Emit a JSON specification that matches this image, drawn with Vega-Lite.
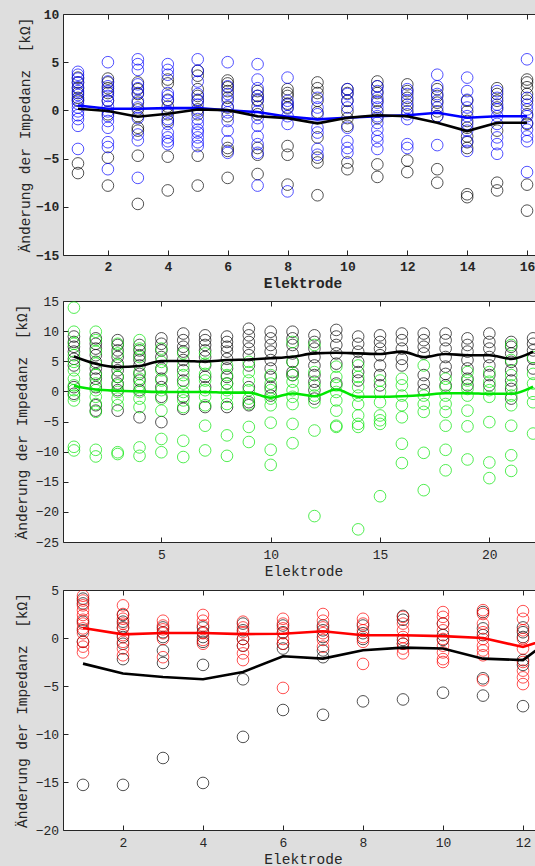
{
"$schema": "https://vega.github.io/schema/vega-lite/v6.json",
"background": "#dedede",
"padding": {"left": 14, "top": 7, "right": 0, "bottom": 0},
"columns": 1,
"align": "none",
"spacing": 4,
"resolve": {"scale": {"color": "independent"}},
"datasets": {
"p1pts": [
{"e":1,"v":3.4,"g":"k"},{"e":1,"v":2.9,"g":"k"},{"e":1,"v":2.3,"g":"k"},{"e":1,"v":1.8,"g":"k"},{"e":1,"v":1.3,"g":"k"},{"e":1,"v":1.0,"g":"k"},{"e":1,"v":-5.5,"g":"k"},{"e":1,"v":-6.5,"g":"k"},
{"e":2,"v":3.3,"g":"k"},{"e":2,"v":2.9,"g":"k"},{"e":2,"v":2.3,"g":"k"},{"e":2,"v":1.8,"g":"k"},{"e":2,"v":1.0,"g":"k"},{"e":2,"v":-0.4,"g":"k"},{"e":2,"v":-4.9,"g":"k"},{"e":2,"v":-7.8,"g":"k"},
{"e":3,"v":2.9,"g":"k"},{"e":3,"v":2.2,"g":"k"},{"e":3,"v":1.7,"g":"k"},{"e":3,"v":0.8,"g":"k"},{"e":3,"v":0.1,"g":"k"},{"e":3,"v":-0.6,"g":"k"},{"e":3,"v":-1.8,"g":"k"},{"e":3,"v":-2.1,"g":"k"},{"e":3,"v":-4.7,"g":"k"},{"e":3,"v":-9.7,"g":"k"},
{"e":4,"v":3.2,"g":"k"},{"e":4,"v":2.8,"g":"k"},{"e":4,"v":1.1,"g":"k"},{"e":4,"v":0.4,"g":"k"},{"e":4,"v":-0.4,"g":"k"},{"e":4,"v":-1.1,"g":"k"},{"e":4,"v":-4.8,"g":"k"},{"e":4,"v":-8.3,"g":"k"},
{"e":5,"v":4.1,"g":"k"},{"e":5,"v":3.6,"g":"k"},{"e":5,"v":2.2,"g":"k"},{"e":5,"v":1.5,"g":"k"},{"e":5,"v":1.0,"g":"k"},{"e":5,"v":0.1,"g":"k"},{"e":5,"v":-0.4,"g":"k"},{"e":5,"v":-4.7,"g":"k"},{"e":5,"v":-7.8,"g":"k"},
{"e":6,"v":3.1,"g":"k"},{"e":6,"v":2.8,"g":"k"},{"e":6,"v":2.4,"g":"k"},{"e":6,"v":2.0,"g":"k"},{"e":6,"v":1.3,"g":"k"},{"e":6,"v":0.3,"g":"k"},{"e":6,"v":-0.6,"g":"k"},{"e":6,"v":-3.9,"g":"k"},{"e":6,"v":-4.2,"g":"k"},{"e":6,"v":-7.0,"g":"k"},
{"e":7,"v":2.0,"g":"k"},{"e":7,"v":1.5,"g":"k"},{"e":7,"v":1.1,"g":"k"},{"e":7,"v":0.4,"g":"k"},{"e":7,"v":-0.4,"g":"k"},{"e":7,"v":-3.9,"g":"k"},{"e":7,"v":-4.6,"g":"k"},{"e":7,"v":-6.6,"g":"k"},
{"e":8,"v":2.2,"g":"k"},{"e":8,"v":1.8,"g":"k"},{"e":8,"v":1.5,"g":"k"},{"e":8,"v":0.7,"g":"k"},{"e":8,"v":0.3,"g":"k"},{"e":8,"v":-3.7,"g":"k"},{"e":8,"v":-4.6,"g":"k"},{"e":8,"v":-7.7,"g":"k"},
{"e":9,"v":2.9,"g":"k"},{"e":9,"v":2.3,"g":"k"},{"e":9,"v":1.8,"g":"k"},{"e":9,"v":1.0,"g":"k"},{"e":9,"v":-0.2,"g":"k"},{"e":9,"v":-2.8,"g":"k"},{"e":9,"v":-4.9,"g":"k"},{"e":9,"v":-5.4,"g":"k"},{"e":9,"v":-8.8,"g":"k"},
{"e":10,"v":2.2,"g":"k"},{"e":10,"v":1.8,"g":"k"},{"e":10,"v":1.0,"g":"k"},{"e":10,"v":-0.1,"g":"k"},{"e":10,"v":-0.8,"g":"k"},{"e":10,"v":-1.6,"g":"k"},{"e":10,"v":-5.4,"g":"k"},{"e":10,"v":-6.1,"g":"k"},
{"e":11,"v":3.0,"g":"k"},{"e":11,"v":2.5,"g":"k"},{"e":11,"v":1.8,"g":"k"},{"e":11,"v":1.0,"g":"k"},{"e":11,"v":-0.1,"g":"k"},{"e":11,"v":-0.8,"g":"k"},{"e":11,"v":-5.6,"g":"k"},{"e":11,"v":-6.9,"g":"k"},
{"e":12,"v":2.7,"g":"k"},{"e":12,"v":2.0,"g":"k"},{"e":12,"v":1.3,"g":"k"},{"e":12,"v":0.6,"g":"k"},{"e":12,"v":-0.1,"g":"k"},{"e":12,"v":-5.2,"g":"k"},{"e":12,"v":-6.4,"g":"k"},
{"e":13,"v":2.2,"g":"k"},{"e":13,"v":1.5,"g":"k"},{"e":13,"v":0.8,"g":"k"},{"e":13,"v":-0.1,"g":"k"},{"e":13,"v":-0.6,"g":"k"},{"e":13,"v":-6.1,"g":"k"},{"e":13,"v":-7.5,"g":"k"},
{"e":14,"v":1.0,"g":"k"},{"e":14,"v":-0.1,"g":"k"},{"e":14,"v":-1.1,"g":"k"},{"e":14,"v":-1.8,"g":"k"},{"e":14,"v":-2.7,"g":"k"},{"e":14,"v":-3.3,"g":"k"},{"e":14,"v":-3.9,"g":"k"},{"e":14,"v":-8.7,"g":"k"},{"e":14,"v":-9.0,"g":"k"},
{"e":15,"v":2.3,"g":"k"},{"e":15,"v":1.7,"g":"k"},{"e":15,"v":1.0,"g":"k"},{"e":15,"v":0.3,"g":"k"},{"e":15,"v":-2.1,"g":"k"},{"e":15,"v":-7.5,"g":"k"},{"e":15,"v":-8.3,"g":"k"},
{"e":16,"v":3.2,"g":"k"},{"e":16,"v":2.9,"g":"k"},{"e":16,"v":2.4,"g":"k"},{"e":16,"v":1.7,"g":"k"},{"e":16,"v":1.0,"g":"k"},{"e":16,"v":-0.4,"g":"k"},{"e":16,"v":-1.4,"g":"k"},{"e":16,"v":-7.7,"g":"k"},{"e":16,"v":-10.4,"g":"k"},
{"e":1,"v":4.0,"g":"c"},{"e":1,"v":3.7,"g":"c"},{"e":1,"v":3.3,"g":"c"},{"e":1,"v":2.9,"g":"c"},{"e":1,"v":2.4,"g":"c"},{"e":1,"v":2.0,"g":"c"},{"e":1,"v":1.6,"g":"c"},{"e":1,"v":1.1,"g":"c"},{"e":1,"v":0.7,"g":"c"},{"e":1,"v":0.3,"g":"c"},{"e":1,"v":-0.1,"g":"c"},{"e":1,"v":-0.5,"g":"c"},{"e":1,"v":-0.9,"g":"c"},{"e":1,"v":-1.6,"g":"c"},{"e":1,"v":-4.0,"g":"c"},
{"e":2,"v":5.0,"g":"c"},{"e":2,"v":3.0,"g":"c"},{"e":2,"v":2.5,"g":"c"},{"e":2,"v":2.0,"g":"c"},{"e":2,"v":1.5,"g":"c"},{"e":2,"v":1.0,"g":"c"},{"e":2,"v":0.4,"g":"c"},{"e":2,"v":-0.1,"g":"c"},{"e":2,"v":-0.6,"g":"c"},{"e":2,"v":-1.1,"g":"c"},{"e":2,"v":-1.8,"g":"c"},{"e":2,"v":-3.3,"g":"c"},{"e":2,"v":-3.8,"g":"c"},{"e":2,"v":-6.1,"g":"c"},
{"e":3,"v":5.3,"g":"c"},{"e":3,"v":4.8,"g":"c"},{"e":3,"v":4.2,"g":"c"},{"e":3,"v":2.7,"g":"c"},{"e":3,"v":2.3,"g":"c"},{"e":3,"v":1.8,"g":"c"},{"e":3,"v":1.0,"g":"c"},{"e":3,"v":0.3,"g":"c"},{"e":3,"v":-0.8,"g":"c"},{"e":3,"v":-2.5,"g":"c"},{"e":3,"v":-3.1,"g":"c"},{"e":3,"v":-7.0,"g":"c"},
{"e":4,"v":4.8,"g":"c"},{"e":4,"v":4.2,"g":"c"},{"e":4,"v":3.7,"g":"c"},{"e":4,"v":1.8,"g":"c"},{"e":4,"v":1.5,"g":"c"},{"e":4,"v":1.0,"g":"c"},{"e":4,"v":-0.1,"g":"c"},{"e":4,"v":-0.9,"g":"c"},{"e":4,"v":-1.4,"g":"c"},{"e":4,"v":-2.3,"g":"c"},{"e":4,"v":-2.8,"g":"c"},{"e":4,"v":-3.2,"g":"c"},{"e":4,"v":-3.5,"g":"c"},
{"e":5,"v":5.3,"g":"c"},{"e":5,"v":4.1,"g":"c"},{"e":5,"v":3.0,"g":"c"},{"e":5,"v":1.7,"g":"c"},{"e":5,"v":1.1,"g":"c"},{"e":5,"v":0.6,"g":"c"},{"e":5,"v":-0.1,"g":"c"},{"e":5,"v":-0.9,"g":"c"},{"e":5,"v":-1.4,"g":"c"},{"e":5,"v":-2.0,"g":"c"},{"e":5,"v":-2.3,"g":"c"},{"e":5,"v":-2.8,"g":"c"},{"e":5,"v":-3.3,"g":"c"},{"e":5,"v":-3.7,"g":"c"},
{"e":6,"v":5.0,"g":"c"},{"e":6,"v":2.5,"g":"c"},{"e":6,"v":1.7,"g":"c"},{"e":6,"v":1.0,"g":"c"},{"e":6,"v":0.4,"g":"c"},{"e":6,"v":-0.2,"g":"c"},{"e":6,"v":-1.1,"g":"c"},{"e":6,"v":-2.1,"g":"c"},{"e":6,"v":-3.2,"g":"c"},{"e":6,"v":-4.4,"g":"c"},
{"e":7,"v":4.8,"g":"c"},{"e":7,"v":3.2,"g":"c"},{"e":7,"v":2.3,"g":"c"},{"e":7,"v":1.5,"g":"c"},{"e":7,"v":1.0,"g":"c"},{"e":7,"v":-0.1,"g":"c"},{"e":7,"v":-0.8,"g":"c"},{"e":7,"v":-1.6,"g":"c"},{"e":7,"v":-2.7,"g":"c"},{"e":7,"v":-3.5,"g":"c"},{"e":7,"v":-4.4,"g":"c"},{"e":7,"v":-7.8,"g":"c"},
{"e":8,"v":3.4,"g":"c"},{"e":8,"v":1.0,"g":"c"},{"e":8,"v":0.6,"g":"c"},{"e":8,"v":0.2,"g":"c"},{"e":8,"v":-0.6,"g":"c"},{"e":8,"v":-1.4,"g":"c"},{"e":8,"v":-8.4,"g":"c"},
{"e":9,"v":1.3,"g":"c"},{"e":9,"v":0.3,"g":"c"},{"e":9,"v":-0.4,"g":"c"},{"e":9,"v":-1.8,"g":"c"},{"e":9,"v":-2.3,"g":"c"},{"e":9,"v":-4.0,"g":"c"},{"e":9,"v":-4.6,"g":"c"},
{"e":10,"v":2.2,"g":"c"},{"e":10,"v":1.7,"g":"c"},{"e":10,"v":1.0,"g":"c"},{"e":10,"v":0.3,"g":"c"},{"e":10,"v":-1.8,"g":"c"},{"e":10,"v":-3.2,"g":"c"},{"e":10,"v":-3.9,"g":"c"},{"e":10,"v":-4.4,"g":"c"},
{"e":11,"v":2.5,"g":"c"},{"e":11,"v":2.0,"g":"c"},{"e":11,"v":1.3,"g":"c"},{"e":11,"v":0.8,"g":"c"},{"e":11,"v":0.3,"g":"c"},{"e":11,"v":-0.6,"g":"c"},{"e":11,"v":-1.3,"g":"c"},{"e":11,"v":-2.0,"g":"c"},{"e":11,"v":-2.7,"g":"c"},{"e":11,"v":-3.2,"g":"c"},{"e":11,"v":-4.0,"g":"c"},
{"e":12,"v":2.2,"g":"c"},{"e":12,"v":1.7,"g":"c"},{"e":12,"v":1.0,"g":"c"},{"e":12,"v":0.3,"g":"c"},{"e":12,"v":-0.4,"g":"c"},{"e":12,"v":-0.9,"g":"c"},{"e":12,"v":-3.5,"g":"c"},{"e":12,"v":-3.9,"g":"c"},
{"e":13,"v":3.7,"g":"c"},{"e":13,"v":2.5,"g":"c"},{"e":13,"v":1.7,"g":"c"},{"e":13,"v":1.0,"g":"c"},{"e":13,"v":0.3,"g":"c"},{"e":13,"v":-0.6,"g":"c"},{"e":13,"v":-3.6,"g":"c"},
{"e":14,"v":3.4,"g":"c"},{"e":14,"v":2.0,"g":"c"},{"e":14,"v":1.1,"g":"c"},{"e":14,"v":0.3,"g":"c"},{"e":14,"v":-0.6,"g":"c"},{"e":14,"v":-1.4,"g":"c"},{"e":14,"v":-2.1,"g":"c"},{"e":14,"v":-3.2,"g":"c"},{"e":14,"v":-4.2,"g":"c"},
{"e":15,"v":2.0,"g":"c"},{"e":15,"v":1.3,"g":"c"},{"e":15,"v":0.6,"g":"c"},{"e":15,"v":0.1,"g":"c"},{"e":15,"v":-0.6,"g":"c"},{"e":15,"v":-1.4,"g":"c"},{"e":15,"v":-2.8,"g":"c"},{"e":15,"v":-3.5,"g":"c"},{"e":15,"v":-4.5,"g":"c"},
{"e":16,"v":5.3,"g":"c"},{"e":16,"v":1.3,"g":"c"},{"e":16,"v":0.6,"g":"c"},{"e":16,"v":0.1,"g":"c"},{"e":16,"v":-0.6,"g":"c"},{"e":16,"v":-1.3,"g":"c"},{"e":16,"v":-2.0,"g":"c"},{"e":16,"v":-2.7,"g":"c"},{"e":16,"v":-3.2,"g":"c"},{"e":16,"v":-6.4,"g":"c"}
],
"p1med": [
{"e":1,"v":0.5,"g":"c"},{"e":2,"v":0.17,"g":"c"},{"e":3,"v":0.17,"g":"c"},{"e":4,"v":0.24,"g":"c"},{"e":5,"v":0.24,"g":"c"},{"e":6,"v":0.0,"g":"c"},{"e":7,"v":-0.17,"g":"c"},{"e":8,"v":-0.65,"g":"c"},{"e":9,"v":-0.93,"g":"c"},{"e":10,"v":-0.76,"g":"c"},{"e":11,"v":-0.6,"g":"c"},{"e":12,"v":-0.5,"g":"c"},{"e":13,"v":-0.24,"g":"c"},{"e":14,"v":-0.76,"g":"c"},{"e":15,"v":-0.6,"g":"c"},{"e":16,"v":-0.6,"g":"c"},
{"e":1,"v":0.17,"g":"k"},{"e":2,"v":-0.07,"g":"k"},{"e":3,"v":-0.66,"g":"k"},{"e":4,"v":-0.34,"g":"k"},{"e":5,"v":0.1,"g":"k"},{"e":6,"v":0.03,"g":"k"},{"e":7,"v":-0.6,"g":"k"},{"e":8,"v":-0.8,"g":"k"},{"e":9,"v":-1.34,"g":"k"},{"e":10,"v":-0.76,"g":"k"},{"e":11,"v":-0.5,"g":"k"},{"e":12,"v":-0.6,"g":"k"},{"e":13,"v":-1.28,"g":"k"},{"e":14,"v":-2.14,"g":"k"},{"e":15,"v":-1.28,"g":"k"},{"e":16,"v":-1.28,"g":"k"}
],
"p2pts": [
{"e":1,"v":9.1,"g":"k"},{"e":1,"v":8.2,"g":"k"},{"e":1,"v":7.4,"g":"k"},{"e":1,"v":6.6,"g":"k"},{"e":1,"v":5.4,"g":"k"},{"e":1,"v":4.3,"g":"k"},{"e":1,"v":0.7,"g":"k"},{"e":1,"v":-0.4,"g":"k"},
{"e":2,"v":8.8,"g":"k"},{"e":2,"v":7.9,"g":"k"},{"e":2,"v":7.1,"g":"k"},{"e":2,"v":6.0,"g":"k"},{"e":2,"v":4.9,"g":"k"},{"e":2,"v":3.8,"g":"k"},{"e":2,"v":2.9,"g":"k"},{"e":2,"v":2.1,"g":"k"},{"e":2,"v":0.7,"g":"k"},{"e":2,"v":-2.3,"g":"k"},{"e":2,"v":-3.2,"g":"k"},
{"e":3,"v":8.5,"g":"k"},{"e":3,"v":7.7,"g":"k"},{"e":3,"v":6.8,"g":"k"},{"e":3,"v":5.7,"g":"k"},{"e":3,"v":4.6,"g":"k"},{"e":3,"v":3.5,"g":"k"},{"e":3,"v":2.4,"g":"k"},{"e":3,"v":1.3,"g":"k"},{"e":3,"v":0.2,"g":"k"},{"e":3,"v":-3.2,"g":"k"},
{"e":4,"v":7.7,"g":"k"},{"e":4,"v":6.8,"g":"k"},{"e":4,"v":6.0,"g":"k"},{"e":4,"v":5.2,"g":"k"},{"e":4,"v":4.3,"g":"k"},{"e":4,"v":2.9,"g":"k"},{"e":4,"v":1.8,"g":"k"},{"e":4,"v":0.2,"g":"k"},{"e":4,"v":-4.3,"g":"k"},
{"e":5,"v":8.8,"g":"k"},{"e":5,"v":7.9,"g":"k"},{"e":5,"v":6.8,"g":"k"},{"e":5,"v":5.7,"g":"k"},{"e":5,"v":3.8,"g":"k"},{"e":5,"v":2.1,"g":"k"},{"e":5,"v":0.7,"g":"k"},{"e":5,"v":-0.9,"g":"k"},{"e":5,"v":-5.1,"g":"k"},
{"e":6,"v":9.6,"g":"k"},{"e":6,"v":8.5,"g":"k"},{"e":6,"v":7.4,"g":"k"},{"e":6,"v":6.6,"g":"k"},{"e":6,"v":5.2,"g":"k"},{"e":6,"v":3.5,"g":"k"},{"e":6,"v":1.8,"g":"k"},{"e":6,"v":-0.9,"g":"k"},{"e":6,"v":-2.9,"g":"k"},
{"e":7,"v":9.3,"g":"k"},{"e":7,"v":8.5,"g":"k"},{"e":7,"v":7.7,"g":"k"},{"e":7,"v":6.8,"g":"k"},{"e":7,"v":5.7,"g":"k"},{"e":7,"v":4.3,"g":"k"},{"e":7,"v":2.4,"g":"k"},{"e":7,"v":0.7,"g":"k"},{"e":7,"v":-2.6,"g":"k"},
{"e":8,"v":9.1,"g":"k"},{"e":8,"v":8.2,"g":"k"},{"e":8,"v":7.4,"g":"k"},{"e":8,"v":6.6,"g":"k"},{"e":8,"v":5.4,"g":"k"},{"e":8,"v":3.8,"g":"k"},{"e":8,"v":2.4,"g":"k"},{"e":8,"v":1.3,"g":"k"},{"e":8,"v":-2.6,"g":"k"},
{"e":9,"v":10.4,"g":"k"},{"e":9,"v":9.3,"g":"k"},{"e":9,"v":8.2,"g":"k"},{"e":9,"v":7.1,"g":"k"},{"e":9,"v":6.0,"g":"k"},{"e":9,"v":4.3,"g":"k"},{"e":9,"v":0.7,"g":"k"},{"e":9,"v":-1.8,"g":"k"},{"e":9,"v":-2.3,"g":"k"},
{"e":10,"v":9.9,"g":"k"},{"e":10,"v":8.8,"g":"k"},{"e":10,"v":7.7,"g":"k"},{"e":10,"v":6.6,"g":"k"},{"e":10,"v":5.2,"g":"k"},{"e":10,"v":3.8,"g":"k"},{"e":10,"v":2.4,"g":"k"},{"e":10,"v":0.7,"g":"k"},{"e":10,"v":-0.7,"g":"k"},
{"e":11,"v":9.9,"g":"k"},{"e":11,"v":8.8,"g":"k"},{"e":11,"v":7.7,"g":"k"},{"e":11,"v":6.3,"g":"k"},{"e":11,"v":4.9,"g":"k"},{"e":11,"v":3.2,"g":"k"},{"e":11,"v":2.7,"g":"k"},
{"e":12,"v":9.3,"g":"k"},{"e":12,"v":8.2,"g":"k"},{"e":12,"v":7.1,"g":"k"},{"e":12,"v":5.7,"g":"k"},{"e":12,"v":4.3,"g":"k"},{"e":12,"v":2.7,"g":"k"},{"e":12,"v":1.6,"g":"k"},{"e":12,"v":0.2,"g":"k"},{"e":12,"v":-1.2,"g":"k"},
{"e":13,"v":10.2,"g":"k"},{"e":13,"v":9.1,"g":"k"},{"e":13,"v":7.7,"g":"k"},{"e":13,"v":6.3,"g":"k"},{"e":13,"v":4.6,"g":"k"},{"e":13,"v":1.3,"g":"k"},
{"e":14,"v":9.1,"g":"k"},{"e":14,"v":7.9,"g":"k"},{"e":14,"v":6.6,"g":"k"},{"e":14,"v":4.9,"g":"k"},{"e":14,"v":3.2,"g":"k"},{"e":14,"v":1.8,"g":"k"},
{"e":15,"v":9.3,"g":"k"},{"e":15,"v":8.2,"g":"k"},{"e":15,"v":7.1,"g":"k"},{"e":15,"v":6.0,"g":"k"},{"e":15,"v":4.3,"g":"k"},{"e":15,"v":2.7,"g":"k"},{"e":15,"v":1.0,"g":"k"},
{"e":16,"v":9.6,"g":"k"},{"e":16,"v":8.5,"g":"k"},{"e":16,"v":7.1,"g":"k"},{"e":16,"v":5.4,"g":"k"},{"e":16,"v":4.3,"g":"k"},
{"e":17,"v":9.6,"g":"k"},{"e":17,"v":8.5,"g":"k"},{"e":17,"v":7.4,"g":"k"},{"e":17,"v":6.3,"g":"k"},{"e":17,"v":2.7,"g":"k"},{"e":17,"v":1.3,"g":"k"},{"e":17,"v":0.2,"g":"k"},
{"e":18,"v":9.6,"g":"k"},{"e":18,"v":8.5,"g":"k"},{"e":18,"v":7.1,"g":"k"},{"e":18,"v":5.7,"g":"k"},{"e":18,"v":4.1,"g":"k"},{"e":18,"v":2.9,"g":"k"},{"e":18,"v":1.0,"g":"k"},
{"e":19,"v":8.8,"g":"k"},{"e":19,"v":7.7,"g":"k"},{"e":19,"v":6.6,"g":"k"},{"e":19,"v":5.2,"g":"k"},{"e":19,"v":3.8,"g":"k"},{"e":19,"v":2.1,"g":"k"},{"e":19,"v":1.0,"g":"k"},
{"e":20,"v":9.6,"g":"k"},{"e":20,"v":8.2,"g":"k"},{"e":20,"v":7.1,"g":"k"},{"e":20,"v":5.7,"g":"k"},{"e":20,"v":4.3,"g":"k"},{"e":20,"v":2.7,"g":"k"},{"e":20,"v":1.0,"g":"k"},
{"e":21,"v":8.2,"g":"k"},{"e":21,"v":7.4,"g":"k"},{"e":21,"v":6.3,"g":"k"},{"e":21,"v":4.9,"g":"k"},{"e":21,"v":3.5,"g":"k"},{"e":21,"v":1.8,"g":"k"},{"e":21,"v":0.4,"g":"k"},{"e":21,"v":-1.2,"g":"k"},
{"e":22,"v":8.8,"g":"k"},{"e":22,"v":7.9,"g":"k"},{"e":22,"v":6.8,"g":"k"},{"e":22,"v":5.4,"g":"k"},{"e":22,"v":3.8,"g":"k"},
{"e":1,"v":13.9,"g":"c"},{"e":1,"v":9.9,"g":"c"},{"e":1,"v":7.9,"g":"c"},{"e":1,"v":6.0,"g":"c"},{"e":1,"v":4.9,"g":"c"},{"e":1,"v":3.5,"g":"c"},{"e":1,"v":2.1,"g":"c"},{"e":1,"v":1.0,"g":"c"},{"e":1,"v":0.2,"g":"c"},{"e":1,"v":-0.7,"g":"c"},{"e":1,"v":-1.5,"g":"c"},{"e":1,"v":-9.2,"g":"c"},{"e":1,"v":-9.8,"g":"c"},
{"e":2,"v":9.9,"g":"c"},{"e":2,"v":8.5,"g":"c"},{"e":2,"v":6.6,"g":"c"},{"e":2,"v":4.6,"g":"c"},{"e":2,"v":2.7,"g":"c"},{"e":2,"v":1.3,"g":"c"},{"e":2,"v":0.2,"g":"c"},{"e":2,"v":-0.9,"g":"c"},{"e":2,"v":-2.1,"g":"c"},{"e":2,"v":-3.4,"g":"c"},{"e":2,"v":-9.7,"g":"c"},{"e":2,"v":-10.8,"g":"c"},
{"e":3,"v":7.9,"g":"c"},{"e":3,"v":6.3,"g":"c"},{"e":3,"v":4.3,"g":"c"},{"e":3,"v":2.4,"g":"c"},{"e":3,"v":1.0,"g":"c"},{"e":3,"v":-0.1,"g":"c"},{"e":3,"v":-1.2,"g":"c"},{"e":3,"v":-2.3,"g":"c"},{"e":3,"v":-10.1,"g":"c"},{"e":3,"v":-10.4,"g":"c"},
{"e":4,"v":8.5,"g":"c"},{"e":4,"v":7.1,"g":"c"},{"e":4,"v":5.7,"g":"c"},{"e":4,"v":3.2,"g":"c"},{"e":4,"v":2.1,"g":"c"},{"e":4,"v":1.0,"g":"c"},{"e":4,"v":-0.1,"g":"c"},{"e":4,"v":-1.2,"g":"c"},{"e":4,"v":-2.6,"g":"c"},{"e":4,"v":-9.3,"g":"c"},{"e":4,"v":-10.7,"g":"c"},
{"e":5,"v":7.1,"g":"c"},{"e":5,"v":4.9,"g":"c"},{"e":5,"v":3.5,"g":"c"},{"e":5,"v":1.8,"g":"c"},{"e":5,"v":0.2,"g":"c"},{"e":5,"v":-1.2,"g":"c"},{"e":5,"v":-3.2,"g":"c"},{"e":5,"v":-7.9,"g":"c"},{"e":5,"v":-10.1,"g":"c"},
{"e":6,"v":6.3,"g":"c"},{"e":6,"v":4.3,"g":"c"},{"e":6,"v":2.7,"g":"c"},{"e":6,"v":1.3,"g":"c"},{"e":6,"v":-0.1,"g":"c"},{"e":6,"v":-1.5,"g":"c"},{"e":6,"v":-2.6,"g":"c"},{"e":6,"v":-8.2,"g":"c"},{"e":6,"v":-10.9,"g":"c"},
{"e":7,"v":6.3,"g":"c"},{"e":7,"v":4.6,"g":"c"},{"e":7,"v":2.9,"g":"c"},{"e":7,"v":1.8,"g":"c"},{"e":7,"v":0.2,"g":"c"},{"e":7,"v":-0.9,"g":"c"},{"e":7,"v":-2.3,"g":"c"},{"e":7,"v":-5.7,"g":"c"},{"e":7,"v":-9.8,"g":"c"},
{"e":8,"v":4.3,"g":"c"},{"e":8,"v":2.7,"g":"c"},{"e":8,"v":1.3,"g":"c"},{"e":8,"v":0.2,"g":"c"},{"e":8,"v":-0.9,"g":"c"},{"e":8,"v":-2.1,"g":"c"},{"e":8,"v":-7.3,"g":"c"},{"e":8,"v":-10.7,"g":"c"},
{"e":9,"v":4.9,"g":"c"},{"e":9,"v":3.2,"g":"c"},{"e":9,"v":1.8,"g":"c"},{"e":9,"v":0.2,"g":"c"},{"e":9,"v":-1.2,"g":"c"},{"e":9,"v":-2.1,"g":"c"},{"e":9,"v":-5.9,"g":"c"},{"e":9,"v":-8.4,"g":"c"},
{"e":10,"v":2.7,"g":"c"},{"e":10,"v":1.3,"g":"c"},{"e":10,"v":0.2,"g":"c"},{"e":10,"v":-1.2,"g":"c"},{"e":10,"v":-2.3,"g":"c"},{"e":10,"v":-5.2,"g":"c"},{"e":10,"v":-9.7,"g":"c"},{"e":10,"v":-12.2,"g":"c"},
{"e":11,"v":8.2,"g":"c"},{"e":11,"v":4.9,"g":"c"},{"e":11,"v":2.7,"g":"c"},{"e":11,"v":1.6,"g":"c"},{"e":11,"v":0.2,"g":"c"},{"e":11,"v":-0.9,"g":"c"},{"e":11,"v":-2.1,"g":"c"},{"e":11,"v":-5.4,"g":"c"},{"e":11,"v":-8.6,"g":"c"},
{"e":12,"v":7.7,"g":"c"},{"e":12,"v":3.2,"g":"c"},{"e":12,"v":1.0,"g":"c"},{"e":12,"v":-0.7,"g":"c"},{"e":12,"v":-1.8,"g":"c"},{"e":12,"v":-6.5,"g":"c"},{"e":12,"v":-20.7,"g":"c"},
{"e":13,"v":4.1,"g":"c"},{"e":13,"v":2.4,"g":"c"},{"e":13,"v":1.0,"g":"c"},{"e":13,"v":-0.1,"g":"c"},{"e":13,"v":-1.5,"g":"c"},{"e":13,"v":-3.2,"g":"c"},{"e":13,"v":-5.7,"g":"c"},{"e":13,"v":-5.9,"g":"c"},
{"e":14,"v":4.3,"g":"c"},{"e":14,"v":2.4,"g":"c"},{"e":14,"v":0.7,"g":"c"},{"e":14,"v":-0.7,"g":"c"},{"e":14,"v":-2.1,"g":"c"},{"e":14,"v":-4.0,"g":"c"},{"e":14,"v":-5.4,"g":"c"},{"e":14,"v":-5.9,"g":"c"},{"e":14,"v":-22.9,"g":"c"},
{"e":15,"v":1.8,"g":"c"},{"e":15,"v":-0.1,"g":"c"},{"e":15,"v":-1.8,"g":"c"},{"e":15,"v":-4.0,"g":"c"},{"e":15,"v":-4.8,"g":"c"},{"e":15,"v":-5.4,"g":"c"},{"e":15,"v":-17.4,"g":"c"},
{"e":16,"v":2.1,"g":"c"},{"e":16,"v":1.0,"g":"c"},{"e":16,"v":-0.7,"g":"c"},{"e":16,"v":-2.3,"g":"c"},{"e":16,"v":-4.3,"g":"c"},{"e":16,"v":-8.7,"g":"c"},{"e":16,"v":-11.9,"g":"c"},
{"e":17,"v":4.3,"g":"c"},{"e":17,"v":-0.7,"g":"c"},{"e":17,"v":-2.1,"g":"c"},{"e":17,"v":-3.4,"g":"c"},{"e":17,"v":-10.2,"g":"c"},{"e":17,"v":-16.4,"g":"c"},
{"e":18,"v":2.1,"g":"c"},{"e":18,"v":0.7,"g":"c"},{"e":18,"v":-0.7,"g":"c"},{"e":18,"v":-2.1,"g":"c"},{"e":18,"v":-3.4,"g":"c"},{"e":18,"v":-5.7,"g":"c"},{"e":18,"v":-9.7,"g":"c"},{"e":18,"v":-13.1,"g":"c"},
{"e":19,"v":3.2,"g":"c"},{"e":19,"v":1.8,"g":"c"},{"e":19,"v":0.4,"g":"c"},{"e":19,"v":-0.7,"g":"c"},{"e":19,"v":-3.2,"g":"c"},{"e":19,"v":-5.8,"g":"c"},{"e":19,"v":-11.3,"g":"c"},
{"e":20,"v":3.2,"g":"c"},{"e":20,"v":1.6,"g":"c"},{"e":20,"v":0.2,"g":"c"},{"e":20,"v":-0.9,"g":"c"},{"e":20,"v":-5.1,"g":"c"},{"e":20,"v":-11.8,"g":"c"},{"e":20,"v":-14.4,"g":"c"},
{"e":21,"v":7.7,"g":"c"},{"e":21,"v":5.2,"g":"c"},{"e":21,"v":2.7,"g":"c"},{"e":21,"v":1.0,"g":"c"},{"e":21,"v":-0.7,"g":"c"},{"e":21,"v":-2.3,"g":"c"},{"e":21,"v":-5.7,"g":"c"},{"e":21,"v":-10.6,"g":"c"},{"e":21,"v":-13.2,"g":"c"},
{"e":22,"v":5.7,"g":"c"},{"e":22,"v":2.9,"g":"c"},{"e":22,"v":1.3,"g":"c"},{"e":22,"v":-0.4,"g":"c"},{"e":22,"v":-1.8,"g":"c"},{"e":22,"v":-7.0,"g":"c"}
],
"p2med": [
{"e":1,"v":0.9,"g":"c"},{"e":2,"v":0.3,"g":"c"},{"e":3,"v":0.1,"g":"c"},{"e":4,"v":0.0,"g":"c"},{"e":5,"v":-0.1,"g":"c"},{"e":6,"v":-0.1,"g":"c"},{"e":7,"v":-0.1,"g":"c"},{"e":8,"v":-0.2,"g":"c"},{"e":9,"v":-0.2,"g":"c"},{"e":10,"v":-1.05,"g":"c"},{"e":11,"v":-0.35,"g":"c"},{"e":12,"v":-0.8,"g":"c"},{"e":13,"v":0.3,"g":"c"},{"e":14,"v":-0.9,"g":"c"},{"e":15,"v":-0.9,"g":"c"},{"e":16,"v":-0.8,"g":"c"},{"e":17,"v":-0.6,"g":"c"},{"e":18,"v":-0.3,"g":"c"},{"e":19,"v":-0.3,"g":"c"},{"e":20,"v":-0.4,"g":"c"},{"e":21,"v":-0.4,"g":"c"},{"e":22,"v":0.8,"g":"c"},
{"e":1,"v":5.8,"g":"k"},{"e":2,"v":4.6,"g":"k"},{"e":3,"v":4.05,"g":"k"},{"e":4,"v":4.2,"g":"k"},{"e":5,"v":5.05,"g":"k"},{"e":6,"v":5.05,"g":"k"},{"e":7,"v":4.95,"g":"k"},{"e":8,"v":5.2,"g":"k"},{"e":9,"v":5.3,"g":"k"},{"e":10,"v":5.5,"g":"k"},{"e":11,"v":5.75,"g":"k"},{"e":12,"v":6.3,"g":"k"},{"e":13,"v":6.4,"g":"k"},{"e":14,"v":6.3,"g":"k"},{"e":15,"v":6.2,"g":"k"},{"e":16,"v":6.6,"g":"k"},{"e":17,"v":5.7,"g":"k"},{"e":18,"v":6.2,"g":"k"},{"e":19,"v":6.0,"g":"k"},{"e":20,"v":6.0,"g":"k"},{"e":21,"v":5.4,"g":"k"},{"e":22,"v":6.6,"g":"k"}
],
"p3pts": [
{"e":1,"v":4.1,"g":"k"},{"e":1,"v":3.6,"g":"k"},{"e":1,"v":1.7,"g":"k"},{"e":1,"v":0.8,"g":"k"},{"e":1,"v":-0.4,"g":"k"},{"e":1,"v":-15.3,"g":"k"},
{"e":2,"v":2.4,"g":"k"},{"e":2,"v":1.7,"g":"k"},{"e":2,"v":1.1,"g":"k"},{"e":2,"v":0.1,"g":"k"},{"e":2,"v":-0.6,"g":"k"},{"e":2,"v":-2.2,"g":"k"},{"e":2,"v":-15.3,"g":"k"},
{"e":3,"v":1.1,"g":"k"},{"e":3,"v":0.6,"g":"k"},{"e":3,"v":0.1,"g":"k"},{"e":3,"v":-1.3,"g":"k"},{"e":3,"v":-2.6,"g":"k"},{"e":3,"v":-12.5,"g":"k"},
{"e":4,"v":1.1,"g":"k"},{"e":4,"v":0.6,"g":"k"},{"e":4,"v":0.1,"g":"k"},{"e":4,"v":-0.4,"g":"k"},{"e":4,"v":-2.8,"g":"k"},{"e":4,"v":-15.1,"g":"k"},
{"e":5,"v":1.5,"g":"k"},{"e":5,"v":0.8,"g":"k"},{"e":5,"v":-0.1,"g":"k"},{"e":5,"v":-0.8,"g":"k"},{"e":5,"v":-4.3,"g":"k"},{"e":5,"v":-10.3,"g":"k"},
{"e":6,"v":1.3,"g":"k"},{"e":6,"v":0.6,"g":"k"},{"e":6,"v":-0.6,"g":"k"},{"e":6,"v":-1.1,"g":"k"},{"e":6,"v":-7.5,"g":"k"},
{"e":7,"v":1.3,"g":"k"},{"e":7,"v":0.8,"g":"k"},{"e":7,"v":0.1,"g":"k"},{"e":7,"v":-1.3,"g":"k"},{"e":7,"v":-2.0,"g":"k"},{"e":7,"v":-8.0,"g":"k"},
{"e":8,"v":1.3,"g":"k"},{"e":8,"v":0.5,"g":"k"},{"e":8,"v":-0.1,"g":"k"},{"e":8,"v":-6.6,"g":"k"},
{"e":9,"v":2.3,"g":"k"},{"e":9,"v":1.9,"g":"k"},{"e":9,"v":-0.2,"g":"k"},{"e":9,"v":-0.6,"g":"k"},{"e":9,"v":-6.4,"g":"k"},
{"e":10,"v":1.5,"g":"k"},{"e":10,"v":0.3,"g":"k"},{"e":10,"v":-0.2,"g":"k"},{"e":10,"v":-5.7,"g":"k"},
{"e":11,"v":2.7,"g":"k"},{"e":11,"v":1.0,"g":"k"},{"e":11,"v":0.3,"g":"k"},{"e":11,"v":-4.2,"g":"k"},{"e":11,"v":-6.0,"g":"k"},
{"e":12,"v":1.1,"g":"k"},{"e":12,"v":0.6,"g":"k"},{"e":12,"v":0.1,"g":"k"},{"e":12,"v":-2.3,"g":"k"},{"e":12,"v":-2.8,"g":"k"},{"e":12,"v":-7.1,"g":"k"},
{"e":1,"v":4.4,"g":"c"},{"e":1,"v":3.9,"g":"c"},{"e":1,"v":3.4,"g":"c"},{"e":1,"v":2.9,"g":"c"},{"e":1,"v":2.4,"g":"c"},{"e":1,"v":1.9,"g":"c"},{"e":1,"v":1.5,"g":"c"},{"e":1,"v":1.0,"g":"c"},{"e":1,"v":0.5,"g":"c"},{"e":1,"v":-0.4,"g":"c"},{"e":1,"v":-0.9,"g":"c"},{"e":1,"v":-1.5,"g":"c"},
{"e":2,"v":3.4,"g":"c"},{"e":2,"v":2.5,"g":"c"},{"e":2,"v":2.0,"g":"c"},{"e":2,"v":1.5,"g":"c"},{"e":2,"v":1.0,"g":"c"},{"e":2,"v":0.3,"g":"c"},{"e":2,"v":-0.4,"g":"c"},{"e":2,"v":-1.1,"g":"c"},{"e":2,"v":-1.8,"g":"c"},
{"e":3,"v":1.8,"g":"c"},{"e":3,"v":1.3,"g":"c"},{"e":3,"v":0.9,"g":"c"},{"e":3,"v":0.5,"g":"c"},{"e":3,"v":-0.1,"g":"c"},{"e":3,"v":-2.0,"g":"c"},
{"e":4,"v":2.4,"g":"c"},{"e":4,"v":1.8,"g":"c"},{"e":4,"v":1.3,"g":"c"},{"e":4,"v":0.5,"g":"c"},{"e":4,"v":-0.2,"g":"c"},{"e":4,"v":-0.6,"g":"c"},
{"e":5,"v":1.7,"g":"c"},{"e":5,"v":1.1,"g":"c"},{"e":5,"v":0.6,"g":"c"},{"e":5,"v":-0.1,"g":"c"},{"e":5,"v":-0.8,"g":"c"},{"e":5,"v":-1.6,"g":"c"},{"e":5,"v":-2.3,"g":"c"},
{"e":6,"v":2.0,"g":"c"},{"e":6,"v":1.5,"g":"c"},{"e":6,"v":1.0,"g":"c"},{"e":6,"v":0.5,"g":"c"},{"e":6,"v":-0.1,"g":"c"},{"e":6,"v":-0.6,"g":"c"},{"e":6,"v":-5.2,"g":"c"},
{"e":7,"v":2.5,"g":"c"},{"e":7,"v":1.8,"g":"c"},{"e":7,"v":1.1,"g":"c"},{"e":7,"v":0.5,"g":"c"},{"e":7,"v":-0.2,"g":"c"},{"e":7,"v":-0.9,"g":"c"},
{"e":8,"v":2.0,"g":"c"},{"e":8,"v":1.5,"g":"c"},{"e":8,"v":0.8,"g":"c"},{"e":8,"v":0.1,"g":"c"},{"e":8,"v":-0.4,"g":"c"},{"e":8,"v":-2.7,"g":"c"},
{"e":9,"v":2.2,"g":"c"},{"e":9,"v":1.5,"g":"c"},{"e":9,"v":0.8,"g":"c"},{"e":9,"v":0.1,"g":"c"},{"e":9,"v":-0.6,"g":"c"},{"e":9,"v":-1.1,"g":"c"},{"e":9,"v":-1.6,"g":"c"},
{"e":10,"v":2.7,"g":"c"},{"e":10,"v":2.2,"g":"c"},{"e":10,"v":1.5,"g":"c"},{"e":10,"v":0.8,"g":"c"},{"e":10,"v":-0.1,"g":"c"},{"e":10,"v":-0.8,"g":"c"},{"e":10,"v":-1.5,"g":"c"},{"e":10,"v":-2.2,"g":"c"},{"e":10,"v":-2.5,"g":"c"},
{"e":11,"v":2.9,"g":"c"},{"e":11,"v":2.5,"g":"c"},{"e":11,"v":1.5,"g":"c"},{"e":11,"v":0.6,"g":"c"},{"e":11,"v":-0.1,"g":"c"},{"e":11,"v":-0.8,"g":"c"},{"e":11,"v":-1.3,"g":"c"},{"e":11,"v":-1.8,"g":"c"},{"e":11,"v":-4.4,"g":"c"},
{"e":12,"v":2.8,"g":"c"},{"e":12,"v":2.0,"g":"c"},{"e":12,"v":0.8,"g":"c"},{"e":12,"v":-0.1,"g":"c"},{"e":12,"v":-1.1,"g":"c"},{"e":12,"v":-2.5,"g":"c"},{"e":12,"v":-3.4,"g":"c"},{"e":12,"v":-4.1,"g":"c"},{"e":12,"v":-4.8,"g":"c"}
],
"p3med": [
{"e":1,"v":-2.67,"g":"k"},{"e":2,"v":-3.7,"g":"k"},{"e":3,"v":-4.06,"g":"k"},{"e":4,"v":-4.3,"g":"k"},{"e":5,"v":-3.54,"g":"k"},{"e":6,"v":-1.9,"g":"k"},{"e":7,"v":-2.15,"g":"k"},{"e":8,"v":-1.28,"g":"k"},{"e":9,"v":-1.0,"g":"k"},{"e":10,"v":-1.1,"g":"k"},{"e":11,"v":-2.15,"g":"k"},{"e":12,"v":-2.3,"g":"k"},{"e":13,"v":0.8,"g":"k"},
{"e":1,"v":1.04,"g":"c"},{"e":2,"v":0.38,"g":"c"},{"e":3,"v":0.52,"g":"c"},{"e":4,"v":0.52,"g":"c"},{"e":5,"v":0.4,"g":"c"},{"e":6,"v":0.45,"g":"c"},{"e":7,"v":0.7,"g":"c"},{"e":8,"v":0.28,"g":"c"},{"e":9,"v":0.28,"g":"c"},{"e":10,"v":0.2,"g":"c"},{"e":11,"v":0.0,"g":"c"},{"e":12,"v":-0.94,"g":"c"},{"e":13,"v":0.4,"g":"c"}
]
},
"concat": [
{
"width": 479, "height": 241,
"layer": [
{"data": {"name": "p1pts"},
 "mark": {"type": "point", "shape": "circle", "filled": false, "size": 135, "strokeWidth": 0.8, "opacity": 0.85, "clip": true},
 "encoding": {
  "x": {"field": "e", "type": "quantitative", "scale": {"domain": [0.5, 16.5], "nice": false, "zero": false},
        "axis": {"orient": "bottom", "values": [2,4,6,8,10,12,14,16], "title": "Elektrode", "labelPadding": 10.5, "titlePadding": 2.5, "labelFontWeight": "bold", "titleFontWeight": "bold"}},
  "y": {"field": "v", "type": "quantitative", "scale": {"domain": [-15, 10], "nice": false, "zero": false},
        "axis": {"orient": "left", "values": [-15,-10,-5,0,5,10], "title": "Änderung der Impedanz\u00a0 [kΩ]", "labelPadding": 9.2, "titlePadding": 2.5, "labelFontWeight": "bold"}},
  "color": {"field": "g", "type": "nominal", "scale": {"domain": ["k", "c"], "range": ["#000000", "#0000ff"]}, "legend": null}}},
{"data": {"name": "p1med"},
 "mark": {"type": "line", "strokeWidth": 2.6, "clip": true},
 "encoding": {
  "x": {"field": "e", "type": "quantitative", "axis": null},
  "y": {"field": "v", "type": "quantitative", "axis": null},
  "color": {"field": "g", "type": "nominal", "legend": null}}},
{"data": {"name": "p1med"},
 "mark": {"type": "point", "opacity": 0},
 "encoding": {
  "x": {"field": "e", "type": "quantitative", "axis": {"orient": "top", "values": [2,4,6,8,10,12,14,16], "labels": false, "title": null}},
  "y": {"field": "v", "type": "quantitative", "axis": {"orient": "right", "values": [-15,-10,-5,0,5,10], "labels": false, "title": null}}}}
],
"resolve": {"axis": {"x": "independent", "y": "independent"}}
},
{
"width": 481, "height": 241,
"layer": [
{"data": {"name": "p2pts"},
 "mark": {"type": "point", "shape": "circle", "filled": false, "size": 135, "strokeWidth": 0.8, "opacity": 0.85, "clip": true},
 "encoding": {
  "x": {"field": "e", "type": "quantitative", "scale": {"domain": [0.5, 22.5], "nice": false, "zero": false},
        "axis": {"orient": "bottom", "values": [5,10,15,20], "title": "Elektrode", "labelPadding": 11, "titlePadding": 3.6}},
  "y": {"field": "v", "type": "quantitative", "scale": {"domain": [-25, 15], "nice": false, "zero": false},
        "axis": {"orient": "left", "values": [-25,-20,-15,-10,-5,0,5,10,15], "title": "Änderung der Impedanz\u00a0 [kΩ]", "labelPadding": 9.4, "titlePadding": 5.6}},
  "color": {"field": "g", "type": "nominal", "scale": {"domain": ["k", "c"], "range": ["#000000", "#00e600"]}, "legend": null}}},
{"data": {"name": "p2med"},
 "mark": {"type": "line", "strokeWidth": 2.6, "clip": true, "interpolate": "monotone"},
 "encoding": {
  "x": {"field": "e", "type": "quantitative", "axis": null},
  "y": {"field": "v", "type": "quantitative", "axis": null},
  "color": {"field": "g", "type": "nominal", "legend": null}}},
{"data": {"name": "p2med"},
 "mark": {"type": "point", "opacity": 0},
 "encoding": {
  "x": {"field": "e", "type": "quantitative", "axis": {"orient": "top", "values": [5,10,15,20], "labels": false, "title": null}},
  "y": {"field": "v", "type": "quantitative", "axis": {"orient": "right", "values": [-25,-20,-15,-10,-5,0,5,10,15], "labels": false, "title": null}}}}
],
"resolve": {"axis": {"x": "independent", "y": "independent"}}
},
{
"width": 480, "height": 240,
"layer": [
{"data": {"name": "p3pts"},
 "mark": {"type": "point", "shape": "circle", "filled": false, "size": 135, "strokeWidth": 0.8, "opacity": 0.85, "clip": true},
 "encoding": {
  "x": {"field": "e", "type": "quantitative", "scale": {"domain": [0.5, 12.5], "nice": false, "zero": false},
        "axis": {"orient": "bottom", "values": [2,4,6,8,10,12], "title": "Elektrode", "labelPadding": 11, "titlePadding": 3}},
  "y": {"field": "v", "type": "quantitative", "scale": {"domain": [-20, 5], "nice": false, "zero": false},
        "axis": {"orient": "left", "values": [-20,-15,-10,-5,0,5], "title": "Änderung der Impedanz\u00a0 [kΩ]", "labelPadding": 9.4, "titlePadding": 5.6}},
  "color": {"field": "g", "type": "nominal", "scale": {"domain": ["k", "c"], "range": ["#000000", "#ff0000"]}, "legend": null}}},
{"data": {"name": "p3med"},
 "mark": {"type": "line", "strokeWidth": 2.6, "clip": true},
 "encoding": {
  "x": {"field": "e", "type": "quantitative", "axis": null},
  "y": {"field": "v", "type": "quantitative", "axis": null},
  "color": {"field": "g", "type": "nominal", "legend": null}}},
{"data": {"name": "p3med"},
 "mark": {"type": "point", "opacity": 0},
 "encoding": {
  "x": {"field": "e", "type": "quantitative", "axis": {"orient": "top", "values": [2,4,6,8,10,12], "labels": false, "title": null}},
  "y": {"field": "v", "type": "quantitative", "axis": {"orient": "right", "values": [-20,-15,-10,-5,0,5], "labels": false, "title": null}}}}
],
"resolve": {"axis": {"x": "independent", "y": "independent"}}
}
],
"config": {
"view": {"stroke": "#262626", "strokeWidth": 1, "fill": "#ffffff"},
"axis": {"labelFont": "Liberation Mono", "titleFont": "Liberation Mono", "labelFontSize": 13, "titleFontSize": 14.5, "labelColor": "#262626", "titleColor": "#262626", "tickColor": "#262626", "tickWidth": 1, "grid": false, "domain": false, "tickSize": -5, "labelFlush": false, "labelOverlap": false, "titleFontWeight": "normal", "labelFontWeight": "normal"}
}
}
